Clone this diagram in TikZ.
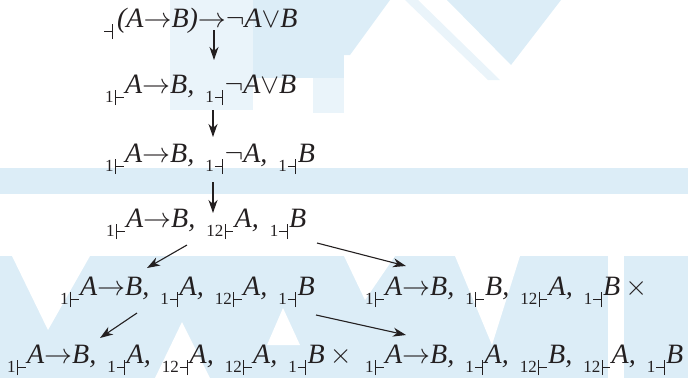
\RequirePackage{fix-cm}
\documentclass[tikz,border=0pt]{standalone}
\usepackage{fontspec}
\setmainfont{Liberation Serif}
\usepackage{xcolor}
\usepackage{tikz}
\usetikzlibrary{arrows.meta, positioning}

\definecolor{ink}{HTML}{231F20}
\definecolor{wmblue}{HTML}{DCEDF7}
\definecolor{wmpale}{HTML}{EAF4FA}

% signed formulas: 1|- and 1-|
\newcommand{\ybar}{\rule[-3pt]{0.9pt}{15pt}}
\newcommand{\xbar}{\rule[4pt]{7.5pt}{0.9pt}}
\newcommand{\tsign}[1]{\raisebox{-9pt}{\upshape\fontsize{17}{17}\selectfont #1\kern1.5pt\ybar\xbar}\kern1.5pt}
\newcommand{\fsign}[1]{\raisebox{-9pt}{\upshape\fontsize{17}{17}\selectfont #1\kern1pt\xbar\ybar}\kern1.5pt}
\newcommand{\nxt}{,\hspace{11pt}}
\newcommand{\fimp}{$\rightarrow$}
\newcommand{\fneg}{$\neg$}
\newcommand{\fdisj}{$\vee$}

\begin{document}
\begin{tikzpicture}[x=1pt, y=-1pt,
    formula/.style={inner sep=0pt, anchor=base west, text=ink, font=\fontsize{28}{30}\selectfont\itshape},
    arrow/.style={draw=ink, line width=1.1pt, -{Stealth[length=13pt, width=9pt, inset=4pt]}}]

    \useasboundingbox (0,0) rectangle (688,378);

    % watermark
    \fill[wmpale] (170,0) rectangle (253,110);
    \fill[wmblue] (253,0) rectangle (344,78);
    \fill[wmpale] (313,78) rectangle (344,113);
    \fill[wmblue] (344,0) -- (390,0) -- (350,55) -- (344,55) -- cycle;
    \fill[wmpale] (405,0) -- (418,0) -- (500,80) -- (488,80) -- cycle;
    \fill[wmblue] (447,0) -- (561,0) -- (511,65) -- cycle;
    \fill[wmblue] (0,168) rectangle (688,194);
    \fill[wmblue] (0,256) rectangle (688,378);
    \fill[white] (12,256) -- (90,256) -- (48,330) -- cycle;
    \fill[white] (155,378) -- (210,378) -- (182,322) -- cycle;
    \fill[white] (267,345) -- (300,345) -- (283,308) -- cycle;
    \fill[white] (344,256) -- (395,256) -- (365,300) -- cycle;
    \fill[white] (455,256) -- (520,256) -- (492,345) -- cycle;
    \fill[white] (608,256) rectangle (624,378);

    \node [formula] (f0) at (103,27) {\fsign{}\kern3pt(A\fimp B)\fimp\fneg A\fdisj B};
    \node [formula, below=66pt of f0.base west, xshift=2pt, anchor=base west] (f1) {\tsign{1}A\fimp B\nxt\fsign{1}\fneg A\fdisj B};
    \node [formula, below=69pt of f1.base west, anchor=base west] (f2) {\tsign{1}A\fimp B\nxt\fsign{1}\fneg A\nxt\fsign{1}B};
    \node [formula, below=65pt of f2.base west, xshift=1pt, anchor=base west] (f3) {\tsign{1}A\fimp B\nxt\tsign{12}A\nxt\fsign{1}B};
    \node [formula, below=68pt of f3.base west, xshift=-46pt, anchor=base west] (f4a) {\tsign{1}A\fimp B\nxt\fsign{1}A\nxt\tsign{12}A\nxt\fsign{1}B};
    \node [formula, below=68pt of f3.base west, xshift=259pt, anchor=base west] (f4b) {\tsign{1}A\fimp B\nxt\tsign{1}B\nxt\tsign{12}A\nxt\fsign{1}B\hspace{5pt}$\times$};
    \node [formula, below=68pt of f4a.base west, xshift=-53pt, anchor=base west] (f5a) {\tsign{1}A\fimp B\nxt\fsign{1}A\nxt\fsign{12}A\nxt\tsign{12}A\nxt\fsign{1}B\hspace{5pt}$\times$};
    \node [formula, below=68pt of f4b.base west, anchor=base west] (f5b) {\tsign{1}A\fimp B\nxt\fsign{1}A\nxt\tsign{12}B\nxt\tsign{12}A\nxt\fsign{1}B};

    \draw [arrow] ([xshift=111pt, yshift=-3pt]f0.base west) -- ([xshift=109pt, yshift=33pt]f1.base west);
    \draw [arrow] ([xshift=108pt, yshift=-17pt]f1.base west) -- ([xshift=108pt, yshift=25pt]f2.base west);
    \draw [arrow] ([xshift=108pt, yshift=-20pt]f2.base west) -- ([xshift=107pt, yshift=14pt]f3.base west);
    \draw [arrow] ([xshift=81pt, yshift=-18pt]f3.base west) -- ([xshift=87pt, yshift=27pt]f4a.base west);
    \draw [arrow] ([xshift=211pt, yshift=-16pt]f3.base west) -- ([xshift=41pt, yshift=29pt]f4b.base west);
    \draw [arrow] ([xshift=77pt, yshift=-18pt]f4a.base west) -- ([xshift=93pt, yshift=25pt]f5a.base west);
    \draw [arrow] ([xshift=256pt, yshift=-20pt]f4a.base west) -- ([xshift=41pt, yshift=28pt]f5b.base west);

\end{tikzpicture}
\end{document}
